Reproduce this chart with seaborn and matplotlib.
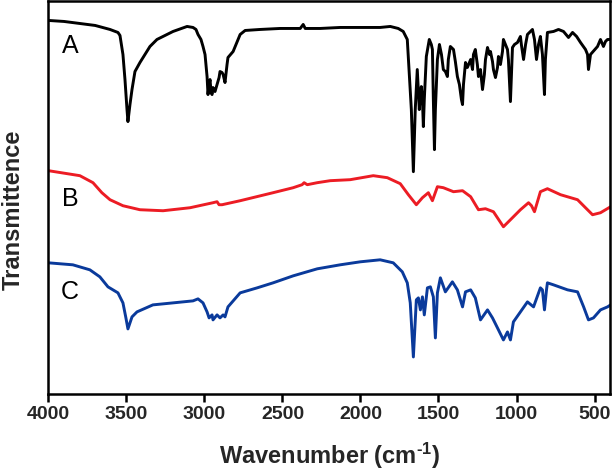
import numpy as np
import pandas as pd
import matplotlib
matplotlib.use("Agg")
import matplotlib.pyplot as plt
import seaborn as sns

# ---- data (wavenumber in cm-1, offset transmittance in arbitrary units) ----
wn_A = [4000, 3900, 3800, 3700, 3605, 3554, 3541, 3522, 3509, 3496, 3490, 3477, 3464, 3445,
        3413, 3349, 3304, 3201, 3111, 3073, 3054, 3041, 3022, 3009, 2996, 2983, 2977, 2970,
        2964, 2957, 2951, 2945, 2932, 2919, 2906, 2900, 2887, 2880, 2868, 2855, 2849, 2816,
        2771, 2739, 2643, 2515, 2386, 2367, 2354, 2258, 2130, 2001, 1874, 1809, 1758, 1726,
        1700, 1693, 1674, 1661, 1649, 1636, 1623, 1616, 1610, 1603, 1597, 1591, 1578, 1559,
        1546, 1539, 1533, 1526, 1520, 1507, 1494, 1481, 1469, 1456, 1443, 1437, 1424, 1404,
        1392, 1379, 1366, 1353, 1346, 1340, 1327, 1315, 1294, 1282, 1276, 1264, 1251, 1244,
        1231, 1218, 1206, 1199, 1186, 1173, 1167, 1154, 1148, 1135, 1122, 1116, 1103, 1090,
        1084, 1071, 1058, 1052, 1039, 1026, 1013, 994, 975, 969, 955, 942, 930, 898, 885, 872,
        859, 847, 834, 821, 815, 802, 763, 731, 699, 667, 641, 615, 590, 558, 545, 539, 526,
        481, 462, 443, 430, 417, 397]
T_A = [373, 372, 370, 368, 364, 361, 358, 339, 314, 284, 272, 289, 304, 322,
       331, 347, 354, 362, 367, 366, 364, 359, 354, 347, 339, 317, 299, 309,
       314, 301, 299, 306, 302, 309, 316, 322, 321, 319, 311, 329, 336, 342,
       359, 363, 364, 365, 365, 369, 365, 365, 366, 366, 366, 367, 365, 362,
       354, 334, 284, 222, 284, 324, 284, 299, 307, 294, 267, 294, 337, 354,
       349, 344, 294, 244, 284, 334, 349, 339, 324, 322, 317, 334, 347, 344,
       332, 317, 309, 294, 289, 309, 331, 326, 334, 324, 339, 344, 329, 317,
       324, 304, 319, 334, 346, 339, 342, 332, 324, 316, 326, 337, 329, 342,
       354, 349, 344, 334, 292, 346, 349, 351, 357, 349, 334, 349, 359, 364, 354, 334,
       349, 357, 339, 299, 334, 361, 362, 364, 362, 356, 361, 357, 351, 344, 339, 324, 339,
       347, 354, 347, 352, 354, 354]

wn_B = [4000, 3798, 3714, 3657, 3605, 3522, 3413, 3265, 3092, 2945, 2919, 2906, 2887, 2771,
        2560, 2431, 2374, 2361, 2341, 2277, 2194, 2066, 1918, 1828, 1745, 1693, 1642, 1603,
        1565, 1539, 1507, 1469, 1404, 1346, 1294, 1244, 1199, 1148, 1084, 1039, 975, 923,
        904, 885, 847, 802, 718, 609, 558, 513, 462, 397]
T_B = [223, 218, 211, 201, 194, 188, 184, 183, 186, 191, 192, 189, 189, 193,
       201, 206, 209, 211, 209, 211, 213, 214, 218, 216, 210, 199, 189, 196,
       201, 193, 207, 206, 202, 203, 197, 184, 185, 182, 167, 174, 184, 191,
       188, 182, 202, 205, 199, 194, 186, 179, 181, 187]

wn_C = [4000, 3843, 3734, 3670, 3618, 3554, 3522, 3503, 3490, 3464, 3432, 3330, 3201, 3073,
        3041, 3009, 2983, 2970, 2951, 2945, 2919, 2900, 2880, 2868, 2849, 2771, 2662, 2560,
        2431, 2277, 2130, 2001, 1874, 1790, 1732, 1700, 1681, 1661, 1642, 1629, 1616, 1603,
        1591, 1571, 1552, 1533, 1520, 1507, 1488, 1456, 1411, 1379, 1346, 1327, 1294, 1264,
        1231, 1186, 1154, 1122, 1084, 1058, 1039, 1020, 975, 930, 891, 847, 834, 821, 808,
        802, 763, 673, 609, 570, 539, 507, 462, 417, 397]
T_C = [131, 129, 124, 117, 107, 101, 91, 76, 65, 77, 82, 89, 91, 93,
       95, 91, 82, 76, 79, 74, 79, 76, 79, 77, 87, 101, 106, 111,
       118, 125, 129, 132, 134, 131, 122, 111, 91, 37, 94, 96, 84, 97,
       79, 106, 107, 97, 56, 101, 116, 102, 112, 104, 87, 102, 104, 96,
       74, 84, 76, 66, 54, 62, 54, 72, 82, 92, 87, 106, 104, 84, 104,
       111, 109, 104, 102, 87, 74, 76, 84, 87, 89]

series_names = ["A", "B", "C"]
series_colors = ["#000000", "#EC1C24", "#0A3A9B"]
label_y = [347, 195, 102]
label_x = 3862
xticks = [4000, 3500, 3000, 2500, 2000, 1500, 1000, 500]

frames = []
for name, wn, T in zip(series_names, [wn_A, wn_B, wn_C], [T_A, T_B, T_C]):
    frames.append(pd.DataFrame({"wn": wn, "T": T, "sample": name}))
df = pd.concat(frames, ignore_index=True)

sns.set_style("white")
plt.rcParams["font.family"] = ["Liberation Sans", "DejaVu Sans"]
plt.rcParams["mathtext.fontset"] = "custom"
plt.rcParams["mathtext.rm"] = "Liberation Sans:bold"
plt.rcParams["mathtext.it"] = "Liberation Sans:bold"
plt.rcParams["mathtext.bf"] = "Liberation Sans:bold"

fig = plt.figure(figsize=(6.12, 4.73), dpi=100)
ax = fig.add_axes([0.079, 0.167, 0.918, 0.83])

sns.lineplot(data=df, x="wn", y="T", hue="sample", palette=dict(zip(series_names, series_colors)),
             estimator=None, sort=True, linewidth=2.1, legend=False, ax=ax)

for name, y in zip(series_names, label_y):
    ax.text(label_x, y, name, fontsize=18, ha="center", va="center", color="black")

ax.set_xlim(4000, 400)
ax.set_ylim(0, 392)
ax.set_xticks(xticks)
ax.set_xticklabels([str(t) for t in xticks], fontsize=14, fontweight="bold")
ax.set_yticks([])
ax.tick_params(axis="x", direction="out", length=5.5, width=1.8, pad=3, bottom=True, color="black")
for sp in ax.spines.values():
    sp.set_linewidth(1.8)
    sp.set_color("black")

ax.set_xlabel("Wavenumber (cm$^{\u20101}$)", fontsize=17, fontweight="bold")
ax.xaxis.set_label_coords(0.5, -0.118)
ax.set_ylabel("Transmittence", fontsize=17, fontweight="bold")
ax.yaxis.set_label_coords(-0.042, 0.47)

fig.savefig("out.png", dpi=100)
